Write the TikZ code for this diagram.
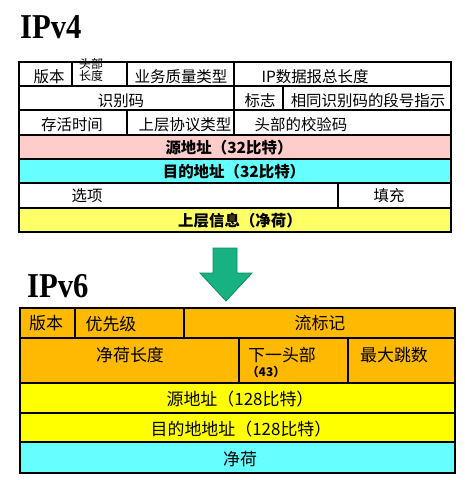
\documentclass[tikz,border=0pt]{standalone}
\usepackage{fontspec}
\newfontfamily\cjk{Noto Sans CJK SC}
\newfontfamily\titlefont[FakeStretch=0.88]{Liberation Serif}
\usetikzlibrary{arrows}
\definecolor{srcpink}{RGB}{255,204,204}
\definecolor{dstcyan}{RGB}{102,255,255}
\definecolor{payyellow}{RGB}{255,255,102}
\definecolor{hdrorange}{RGB}{255,186,0}
\definecolor{addryellow}{RGB}{255,255,0}
\definecolor{arrowgreen}{RGB}{24,178,130}
\definecolor{arrowedge}{RGB}{10,140,100}

\begin{document}
\begin{tikzpicture}[x=1bp,y=-1bp,
  box/.style={draw=black, line width=1.3bp},
  txt/.style={inner sep=0pt, font=\cjk\fontsize{15.5}{16}\selectfont},
  boldtxt/.style={inner sep=0pt, font=\cjk\bfseries\fontsize{15.5}{16}\selectfont},
  tinytxt/.style={inner sep=0pt, align=center, font=\cjk\fontsize{12}{10}\selectfont},
  sixtxt/.style={inner sep=0pt, font=\cjk\fontsize{17}{18}\selectfont},
  title/.style={inner sep=0pt, anchor=base west, font=\titlefont\bfseries\fontsize{35}{36}\selectfont}]
  \useasboundingbox (0,0) rectangle (465,480);

  % IPv4
  \node[title] (v4title) at (20,39) {IPv4};
  \draw[box, fill=white] (19,62) rectangle (451,135);
  \draw[box, fill=srcpink] (19,135) rectangle (451,159);
  \draw[box, fill=dstcyan] (19,159) rectangle (451,183);
  \draw[box, fill=white] (19,183) rectangle (451,208);
  \draw[box, fill=payyellow] (19,208) rectangle (451,232);
  \draw[box] (19,86) -- (451,86);
  \draw[box] (19,110) -- (451,110);
  \draw[box] (72,62) -- (72,86);
  \draw[box] (127,62) -- (127,86);
  \draw[box] (234,62) -- (234,135);
  \draw[box] (283,86) -- (283,110);
  \draw[box] (127,110) -- (127,135);
  \draw[box] (338,183) -- (338,208);

  \node[txt] (v4ver) at (49,77) {版本};
  \node[tinytxt] (v4hlen) at (91,70) {头部\\长度};
  \node[txt] (v4tos) at (181,77) {业务质量类型};
  \node[txt] (v4total) at (315,77) {IP数据报总长度};
  \node[txt] (v4ident) at (121,101) {识别码};
  \node[txt] (v4flag) at (260,101) {标志};
  \node[txt] (v4frag) at (368,101) {相同识别码的段号指示};
  \node[txt] (v4ttl) at (72,125) {存活时间};
  \node[txt] (v4proto) at (185,125) {上层协议类型};
  \node[txt] (v4check) at (301,125) {头部的校验码};
  \node[boldtxt] (v4src) at (229,148) {源地址（32比特）};
  \node[boldtxt] (v4dst) at (234,172) {目的地址（32比特）};
  \node[txt] (v4opt) at (87,196) {选项};
  \node[txt] (v4pad) at (389,196) {填充};
  \node[boldtxt] (v4data) at (240,221) {上层信息（净荷）};

  % arrow
  \draw[fill=arrowgreen, draw=arrowedge, line width=0.8bp]
    (213,248) -- (237,248) -- (237,273) -- (252,273) -- (226,301)
    -- (200,273) -- (213,273) -- cycle;

  % IPv6
  \node[title] (v6title) at (27,297) {IPv6};
  \draw[box, fill=hdrorange] (20,308) rectangle (455,383);
  \draw[box, fill=addryellow] (20,383) rectangle (455,413);
  \draw[box, fill=addryellow] (20,413) rectangle (455,442);
  \draw[box, fill=dstcyan] (20,442) rectangle (455,473);
  \draw[box] (20,338) -- (455,338);
  \draw[box] (75,308) -- (75,338);
  \draw[box] (184,308) -- (184,338);
  \draw[box] (239,338) -- (239,383);
  \draw[box] (348,338) -- (348,383);

  \node[sixtxt] (v6ver) at (46,323) {版本};
  \node[sixtxt] (v6prio) at (111,324) {优先级};
  \node[sixtxt] (v6flow) at (320,323) {流标记};
  \node[sixtxt] (v6plen) at (130,355) {净荷长度};
  \node[sixtxt] (v6next) at (282,355) {下一头部};
  \node[inner sep=0pt, font=\cjk\bfseries\fontsize{12}{12}\selectfont] (v6num) at (266,372) {（43）};
  \node[sixtxt] (v6hop) at (394,355) {最大跳数};
  \node[sixtxt] (v6src) at (240,399) {源地址（128比特）};
  \node[sixtxt] (v6dst) at (241,429) {目的地地址（128比特）};
  \node[sixtxt] (v6data) at (240,459) {净荷};
\end{tikzpicture}
\end{document}
